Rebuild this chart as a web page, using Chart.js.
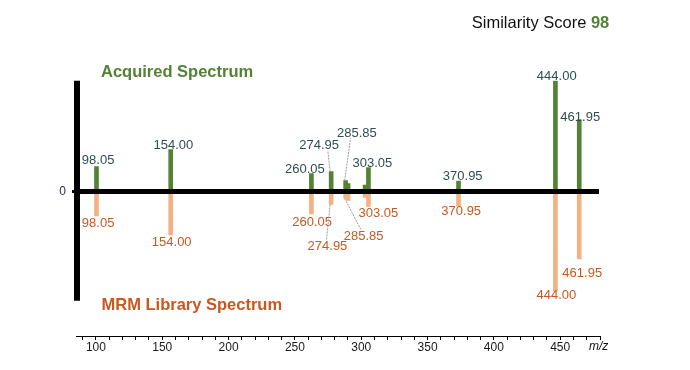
<!DOCTYPE html>
<html><head><meta charset="utf-8">
<script src="https://cdn.jsdelivr.net/npm/chart.js@4.4.1/dist/chart.umd.min.js"></script>
<style>html,body{margin:0;padding:0;background:#fff}canvas{display:block}</style>
</head><body>
<canvas id="c" width="690" height="370"></canvas>
<script>
// ---- data ----
const mzValues          = [98.05, 154.00, 260.05, 274.95, 285.85, 287.7, 300.5, 303.05, 370.95, 444.00, 461.95];
const acquiredIntensity = [22.5,  37.8,   16.2,   18.0,   9.9,    7.2,   5.9,   21.6,   9.5,    100.0,  64.9];
const libraryIntensity  = [22.0,  39.2,   20.3,   11.7,   6.3,    8.1,   5.4,   13.5,   13.0,   90.0,   60.8];
const peakLabels        = ['98.05','154.00','260.05','274.95','285.85','','','303.05','370.95','444.00','461.95'];
const similarityScore = 98;
const xTickStep = 10;
const xLabelStep = 50;
const topTitle = 'Acquired Spectrum';
const bottomTitle = 'MRM Library Spectrum';

// ---- layout of peak labels (pixel nudges, not data) ----
const topLayout = {
  '98.05':{dx:1.6,dy:-5.7}, '154.00':{dx:2.7,dy:-4.3}, '260.05':{dx:-6.5,dy:-4},
  '274.95':{dx:-12,dy:-25.7,lead:{dx:8.6,dy:4.7}}, '285.85':{dx:11.3,dy:-47.4,lead:{dx:-6.3,dy:5}},
  '303.05':{dx:4,dy:-4.6}, '370.95':{dx:4.2,dy:-4.3}, '444.00':{dx:1.3,dy:-4}, '461.95':{dx:1,dy:-2.6}
};
const bottomLayout = {
  '98.05':{dx:1.6,dy:8}, '154.00':{dx:1,dy:7.7}, '260.05':{dx:0.7,dy:8},
  '274.95':{dx:-3.7,dy:42.4,lead:{dx:-1,dy:-7.4}}, '285.85':{dx:18,dy:38,lead:{dx:-2.3,dy:-6}},
  '303.05':{dx:10,dy:7.3}, '370.95':{dx:2.7,dy:6}, '444.00':{dx:1,dy:4}, '461.95':{dx:3,dy:15}
};

const GREEN = '#548235', SALMON = '#F4B183', ORANGE = '#C8581E', TOPTXT = '#2F4F4F';
const FONT = '"Liberation Sans", Arial, sans-serif';
Chart.defaults.font.family = FONT;

const decor = {
  id: 'decor',
  afterDatasetsDraw(chart) {
    const ctx = chart.ctx, ca = chart.chartArea, y = chart.scales.y;
    ctx.save();
    // zero line and vertical axis
    ctx.strokeStyle = '#000';
    ctx.lineWidth = 5;
    ctx.beginPath(); ctx.moveTo(ca.left, y.getPixelForValue(0)); ctx.lineTo(ca.right - 1, y.getPixelForValue(0)); ctx.stroke();
    ctx.lineWidth = 6;
    ctx.beginPath(); ctx.moveTo(ca.left + 1, y.getPixelForValue(100)); ctx.lineTo(ca.left + 1, y.getPixelForValue(-98.6)); ctx.stroke();

    // peak labels
    ctx.font = '13px ' + FONT;
    ctx.textAlign = 'center'; ctx.textBaseline = 'middle';
    const drawLabels = (dsIndex, layout, color) => {
      chart.getDatasetMeta(dsIndex).data.forEach((el, i) => {
        const lab = peakLabels[i];
        if (!lab) return;
        const L = layout[lab] || {dx:0,dy:0};
        const lx = el.x + L.dx, ly = el.y + L.dy;
        if (L.lead) {
          ctx.save();
          ctx.strokeStyle = '#9a9a9a'; ctx.lineWidth = 1; ctx.setLineDash([2,1]);
          ctx.beginPath(); ctx.moveTo(el.x - 1, el.y); ctx.lineTo(lx + L.lead.dx, ly + L.lead.dy); ctx.stroke();
          ctx.restore();
        }
        ctx.fillStyle = color;
        ctx.fillText(lab, lx, ly);
      });
    };
    drawLabels(0, topLayout, TOPTXT);
    drawLabels(1, bottomLayout, ORANGE);

    // titles
    ctx.textAlign = 'left';
    ctx.font = 'bold 16.5px ' + FONT;
    ctx.fillStyle = GREEN; ctx.fillText(topTitle, 101, 72.5);
    ctx.fillStyle = ORANGE; ctx.fillText(bottomTitle, 101.5, 305);
    // similarity score
    ctx.textAlign = 'right';
    ctx.font = 'bold 16.5px ' + FONT;
    const s = String(similarityScore);
    const w = ctx.measureText(s).width;
    ctx.fillStyle = GREEN; ctx.fillText(s, 609.3, 23.5);
    ctx.font = '16.5px ' + FONT;
    ctx.fillStyle = '#111'; ctx.fillText('Similarity Score ', 609.3 - w, 23.5);
    // axis title
    ctx.textAlign = 'left';
    ctx.font = 'italic 12px ' + FONT;
    ctx.fillStyle = '#111'; ctx.fillText('m/z', 589, 346.5);
    ctx.restore();
  }
};

new Chart(document.getElementById('c'), {
  type: 'bar',
  data: {
    datasets: [
      { label: topTitle, data: mzValues.map((m, i) => ({x: m, y: acquiredIntensity[i]})),
        backgroundColor: GREEN, xAxisID: 'xb', barThickness: 4, grouped: false },
      { label: bottomTitle, data: mzValues.map((m, i) => ({x: m, y: -libraryIntensity[i]})),
        backgroundColor: SALMON, xAxisID: 'xb', barThickness: 4, grouped: false }
    ]
  },
  options: {
    responsive: false, animation: false,
    layout: { padding: { top: 80.7, right: 90, bottom: 0, left: 0 } },
    plugins: { legend: { display: false }, tooltip: { enabled: false } },
    scales: {
      x: {
        type: 'linear', min: 85, max: 480, position: 'bottom', offset: false,
        afterFit: s => { s.height = 34; },
        ticks: { stepSize: xTickStep, includeBounds: false, autoSkip: false, maxRotation: 0,
                 color: '#1a1a1a', font: { size: 12 }, padding: 0,
                 callback: v => (v % xLabelStep === 0 ? String(v) : '') },
        grid: { offset: false, drawOnChartArea: false, drawTicks: true, tickLength: 4, color: '#000', lineWidth: 1 },
        border: { display: true, color: '#000', width: 1 }
      },
      xb: { type: 'linear', min: 82.6, max: 477.6, display: false, offset: false, grid: { offset: false } },
      y: {
        min: -130.4, max: 100,
        afterFit: s => { s.width = 76; },
        afterBuildTicks: s => { s.ticks = [{ value: 0 }]; },
        ticks: { color: '#1f2a44', font: { size: 12 }, padding: 6, callback: v => String(v) },
        grid: { drawOnChartArea: false, drawTicks: true, tickLength: 4, color: '#000', lineWidth: 3 },
        border: { display: false }
      }
    }
  },
  plugins: [decor]
});
</script>
</body></html>
